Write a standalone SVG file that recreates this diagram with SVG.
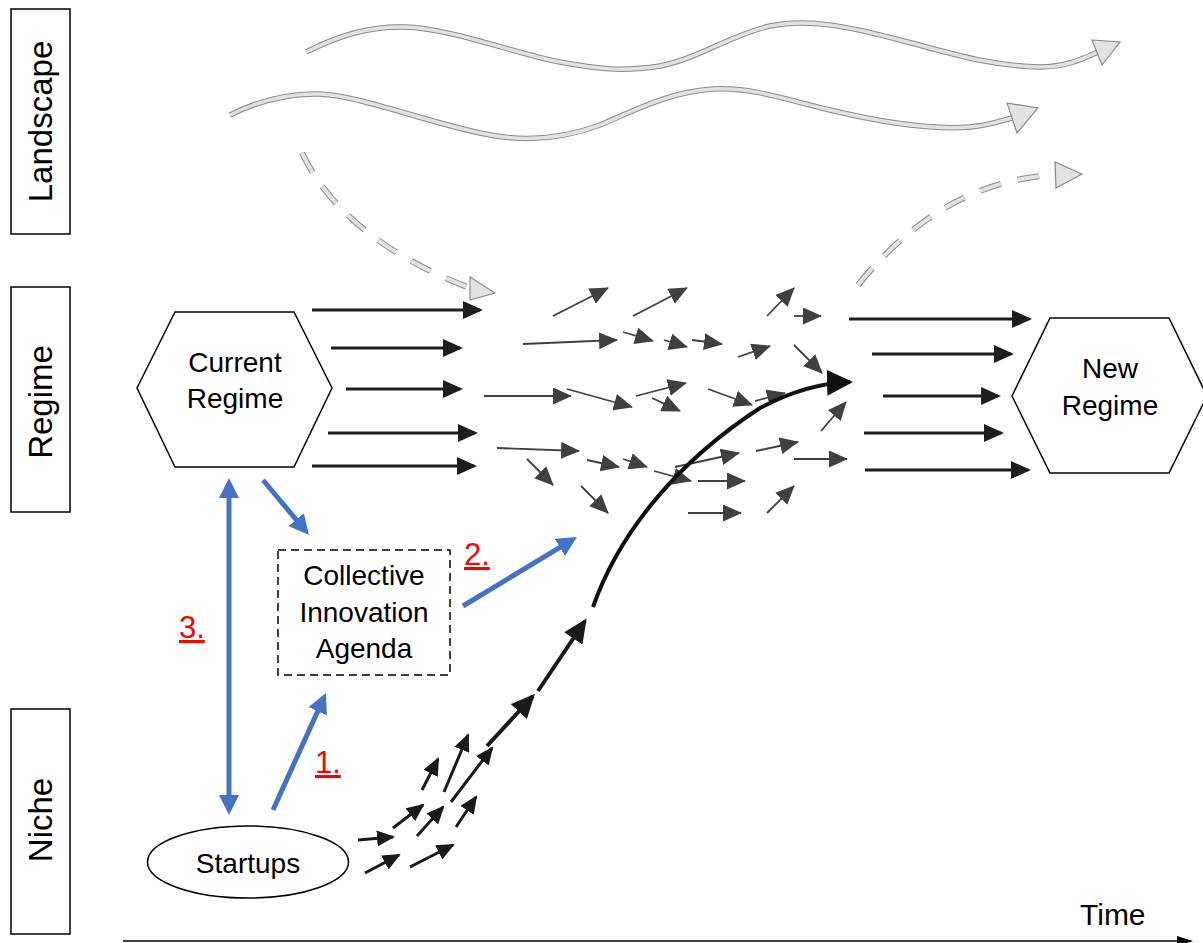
<svg xmlns="http://www.w3.org/2000/svg" width="1203" height="943" viewBox="0 0 1203 943">
<style>
.lbl{font-family:"Liberation Sans",Arial,sans-serif;font-size:33px;fill:#000;text-anchor:middle}
.node{font-family:"Liberation Sans",Arial,sans-serif;font-size:28px;fill:#000;text-anchor:middle}
.red{font-family:"Liberation Sans",Arial,sans-serif;font-size:31px;fill:#FF0000;text-decoration:underline}
.box{fill:#fff;stroke:#000;stroke-width:1.5}
.reg{stroke:#1e1e1e;stroke-width:3;fill:none;marker-end:url(#mReg)}
.sm{stroke:#404040;stroke-width:1.8;fill:none;marker-end:url(#mSm)}
.ni{stroke:#1a1a1a;stroke-width:3;fill:none;marker-end:url(#mNi)}
.nib{stroke:#1a1a1a;stroke-width:4;fill:none;marker-end:url(#mNiB)}
.blue{stroke:#4472C4;stroke-width:5;fill:none;marker-end:url(#mBlue)}
.waveO{stroke:#8a8a8a;stroke-width:5.5;fill:none}
.waveI{stroke:#e2e2e2;stroke-width:3.5;fill:none}
.dashO{stroke:#8a8a8a;stroke-width:6;fill:none;stroke-dasharray:22 17}
.dashI{stroke:#e2e2e2;stroke-width:4;fill:none;stroke-dasharray:22 17}
.ghead{fill:#e2e2e2;stroke:#8a8a8a;stroke-width:1.2}
</style>
<defs>
<marker id="mReg" markerUnits="userSpaceOnUse" markerWidth="20" markerHeight="18" refX="17" refY="9" orient="auto"><path d="M0,0 L20,9 L0,18 z" fill="#1e1e1e"/></marker>
<marker id="mSm" markerUnits="userSpaceOnUse" markerWidth="19" markerHeight="17" refX="18" refY="8.5" orient="auto"><path d="M0,0 L19,8.5 L0,17 z" fill="#404040"/></marker>
<marker id="mNi" markerUnits="userSpaceOnUse" markerWidth="18" markerHeight="16" refX="16" refY="8" orient="auto"><path d="M0,0 L18,8 L0,16 z" fill="#1a1a1a"/></marker>
<marker id="mNiB" markerUnits="userSpaceOnUse" markerWidth="24" markerHeight="22" refX="21" refY="11" orient="auto"><path d="M0,0 L24,11 L0,22 z" fill="#1a1a1a"/></marker>
<marker id="mBig" markerUnits="userSpaceOnUse" markerWidth="26" markerHeight="26" refX="23" refY="13" orient="auto"><path d="M0,0 L26,13 L0,26 z" fill="#111"/></marker>
<marker id="mBlue" markerUnits="userSpaceOnUse" markerWidth="20" markerHeight="20" refX="15" refY="10" orient="auto-start-reverse"><path d="M0,0 L20,10 L0,20 z" fill="#4472C4"/></marker>
<marker id="mTime" markerUnits="userSpaceOnUse" markerWidth="16" markerHeight="10" refX="14" refY="5" orient="auto"><path d="M0,0 L16,5 L0,10 z" fill="#000"/></marker>
</defs>
<rect width="1203" height="943" fill="#fff"/>

<g id="landscape-label">
<rect class="box" x="11" y="9" width="59" height="225"/>
<text class="lbl" transform="translate(52,121.5) rotate(-90)">Landscape</text>
</g>
<g id="regime-label">
<rect class="box" x="11" y="287" width="59" height="225"/>
<text class="lbl" transform="translate(52,402) rotate(-90)">Regime</text>
</g>
<g id="niche-label">
<rect class="box" x="11" y="709" width="59" height="225"/>
<text class="lbl" transform="translate(52,820) rotate(-90)">Niche</text>
</g>

<g id="landscape-arrows">
<path class="waveO" d="M306,52 C340,35 370,26 405,27 C450,28 520,55 560,62 S620,72 660,66 C700,58 730,35 770,26 C810,18 850,27 900,40 C950,53 990,66 1040,67 C1065,67 1080,60 1098,52"/>
<path class="waveI" d="M306,52 C340,35 370,26 405,27 C450,28 520,55 560,62 S620,72 660,66 C700,58 730,35 770,26 C810,18 850,27 900,40 C950,53 990,66 1040,67 C1065,67 1080,60 1098,52"/>
<polygon class="ghead" points="1092,40 1120,42 1102,65"/>
<path class="waveO" d="M230,115 C260,100 290,93 320,94 C360,96 420,120 480,133 C520,142 560,140 600,125 C640,108 670,92 713,89 C750,87 780,98 830,110 C880,122 930,130 970,127 C990,125 1000,121 1012,118"/>
<path class="waveI" d="M230,115 C260,100 290,93 320,94 C360,96 420,120 480,133 C520,142 560,140 600,125 C640,108 670,92 713,89 C750,87 780,98 830,110 C880,122 930,130 970,127 C990,125 1000,121 1012,118"/>
<polygon class="ghead" points="1007,103 1038,108 1017,133"/>
<path class="dashO" d="M302,153 Q344,240 470,288"/>
<path class="dashI" d="M302,153 Q344,240 470,288"/>
<polygon class="ghead" points="470,277 495,293 470,300"/>
<path class="dashO" d="M858,285 Q943,180 1056,175"/>
<path class="dashI" d="M858,285 Q943,180 1056,175"/>
<polygon class="ghead" points="1055,162 1082,174 1056,188"/>
</g>

<g id="current-regime">
<polygon class="box" points="137,388 175,312 294,312 332,388 294,467 175,467"/>
<text class="node" x="235" y="372">Current</text>
<text class="node" x="235" y="408">Regime</text>
</g>
<g id="new-regime">
<polygon class="box" points="1012,396 1050,318 1169,318 1207,396 1169,473 1050,473"/>
<text class="node" x="1110" y="378">New</text>
<text class="node" x="1110" y="415">Regime</text>
</g>
<g id="collective-innovation-agenda">
<rect x="278" y="550" width="172" height="125" fill="#fff" stroke="#000" stroke-width="1.5" stroke-dasharray="8 5"/>
<text class="node" x="364" y="585">Collective</text>
<text class="node" x="364" y="622">Innovation</text>
<text class="node" x="364" y="658">Agenda</text>
</g>
<g id="startups">
<ellipse cx="248" cy="862" rx="100.5" ry="36" class="box"/>
<text class="node" x="248" y="873">Startups</text>
</g>

<g id="connectors">
<line class="reg" x1="312" y1="310" x2="480" y2="310"/>
<line class="reg" x1="331" y1="348" x2="460" y2="348"/>
<line class="reg" x1="346" y1="389" x2="460" y2="389"/>
<line class="reg" x1="328" y1="433" x2="475" y2="433"/>
<line class="reg" x1="312" y1="466" x2="474" y2="466"/>
<line class="reg" x1="849" y1="319" x2="1029" y2="319"/>
<line class="reg" x1="872" y1="354" x2="1011" y2="354"/>
<line class="reg" x1="883" y1="396" x2="998" y2="396"/>
<line class="reg" x1="864" y1="433" x2="1001" y2="433"/>
<line class="reg" x1="865" y1="470" x2="1028" y2="470"/>

<line class="sm" x1="553" y1="316" x2="608" y2="288"/>
<line class="sm" x1="633" y1="316" x2="687" y2="288"/>
<line class="sm" x1="767" y1="316" x2="794" y2="288"/>
<line class="sm" x1="794" y1="316" x2="821" y2="316"/>
<line class="sm" x1="523" y1="344" x2="617" y2="340"/>
<line class="sm" x1="623" y1="332" x2="653" y2="341"/>
<line class="sm" x1="664" y1="340" x2="687" y2="347"/>
<line class="sm" x1="692" y1="340" x2="722" y2="344"/>
<line class="sm" x1="738" y1="357" x2="770" y2="346"/>
<line class="sm" x1="794" y1="345" x2="822" y2="373"/>
<line class="sm" x1="484" y1="396" x2="571" y2="396"/>
<line class="sm" x1="567" y1="389" x2="632" y2="407"/>
<line class="sm" x1="636" y1="396" x2="686" y2="383"/>
<line class="sm" x1="652" y1="398" x2="680" y2="411"/>
<line class="sm" x1="708" y1="389" x2="752" y2="405"/>
<line class="sm" x1="755" y1="401" x2="785" y2="393"/>
<line class="sm" x1="821" y1="431" x2="846" y2="402"/>
<line class="sm" x1="497" y1="448" x2="579" y2="451"/>
<line class="sm" x1="527" y1="459" x2="553" y2="485"/>
<line class="sm" x1="587" y1="460" x2="619" y2="467"/>
<line class="sm" x1="623" y1="459" x2="647" y2="467"/>
<line class="sm" x1="654" y1="471" x2="691" y2="481"/>
<line class="sm" x1="675" y1="467" x2="739" y2="453"/>
<line class="sm" x1="756" y1="451" x2="798" y2="442"/>
<line class="sm" x1="794" y1="459" x2="847" y2="459"/>
<line class="sm" x1="698" y1="481" x2="745" y2="481"/>
<line class="sm" x1="581" y1="486" x2="608" y2="513"/>
<line class="sm" x1="688" y1="513" x2="741" y2="513"/>
<line class="sm" x1="767" y1="513" x2="794" y2="486"/>

<line class="ni" x1="358" y1="840" x2="393" y2="837"/>
<line class="ni" x1="365" y1="873" x2="399" y2="855"/>
<line class="ni" x1="393" y1="828" x2="423" y2="805"/>
<line class="ni" x1="410" y1="867" x2="453" y2="845"/>
<line class="ni" x1="417" y1="836" x2="443" y2="807"/>
<line class="ni" x1="422" y1="790" x2="438" y2="759"/>
<line class="ni" x1="444" y1="792" x2="468" y2="735"/>
<line class="ni" x1="451" y1="802" x2="492" y2="748"/>
<line class="ni" x1="456" y1="827" x2="476" y2="797"/>
<line class="nib" x1="487" y1="746" x2="533" y2="696"/>
<line class="nib" x1="538" y1="691" x2="585" y2="621"/>
<path d="M593,607 C620,530 680,460 760,408 C790,392 820,383 850,382" stroke="#111" stroke-width="4" fill="none" marker-end="url(#mBig)"/>

<line class="blue" x1="229" y1="810" x2="229" y2="483" marker-start="url(#mBlue)"/>
<line class="blue" x1="263" y1="480" x2="305.8" y2="531.2"/>
<line class="blue" x1="273" y1="810" x2="323.9" y2="697.6"/>
<line class="blue" x1="463" y1="606" x2="572.7" y2="539.6"/>
<text class="red" x="315" y="773">1.</text>
<text class="red" x="464" y="565">2.</text>
<text class="red" x="179" y="638">3.</text>
</g>

<g id="time-axis">
<line x1="123" y1="941" x2="1191" y2="941" stroke="#000" stroke-width="1.5" marker-end="url(#mTime)"/>
<text x="1080" y="925" font-family="Liberation Sans, Arial, sans-serif" font-size="30" fill="#000">Time</text>
</g>
</svg>
